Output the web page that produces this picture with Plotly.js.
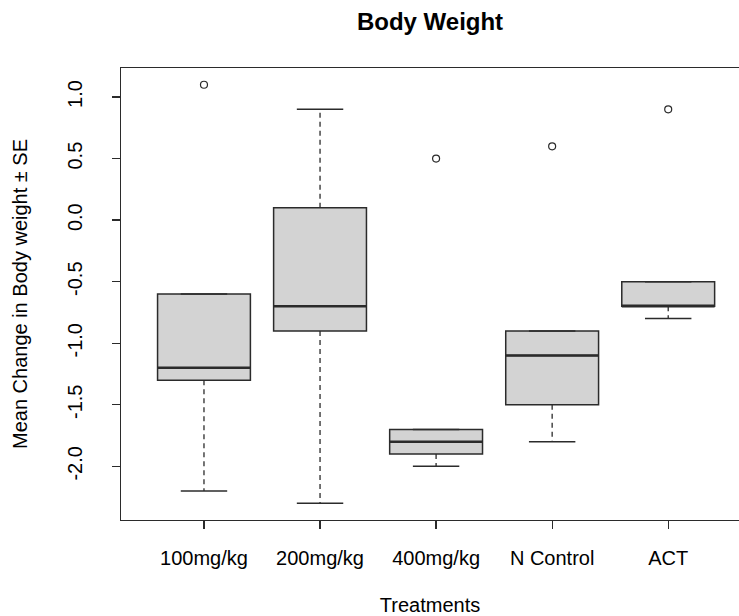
<!DOCTYPE html>
<html>
<head>
<meta charset="utf-8">
<script src="https://cdn.plot.ly/plotly-3.0.1.min.js"></script>
<style>html,body{margin:0;padding:0;background:#fff;}#chart{width:739px;height:616px;}</style>
</head>
<body>
<div id="chart"></div>
<script>
var categories = ["100mg/kg", "200mg/kg", "400mg/kg", "N Control", "ACT"];
var lowerWhisker = [-2.2, -2.3, -2.0, -1.8, -0.8];
var q1Values = [-1.3, -0.9, -1.9, -1.5, -0.7];
var medianValues = [-1.2, -0.7, -1.8, -1.1, -0.7];
var q3Values = [-0.6, 0.1, -1.7, -0.9, -0.5];
var upperWhisker = [-0.6, 0.9, -1.7, -0.9, -0.5];
var outlierCategory = ["100mg/kg", "400mg/kg", "N Control", "ACT"];
var outlierValues = [1.1, 0.5, 0.6, 0.9];
var yTicks = [-2.0, -1.5, -1.0, -0.5, 0.0, 0.5, 1.0];

var pos = categories.map(function(c, i){ return i + 1; });
var boxHalf = 0.4, capHalf = 0.2;
var lineCol = '#2b2b2b';

var traces = [];
traces.push({
  type: 'box', x: pos, q1: q1Values, median: medianValues, q3: q3Values,
  lowerfence: q1Values, upperfence: q3Values, width: 0.8,
  fillcolor: '#d3d3d3', line: {color: lineCol, width: 1.5},
  hoverinfo: 'skip', showlegend: false
});
var wx = [], wy = [];
var cx = [], cy = [];
pos.forEach(function(p, i){
  if (lowerWhisker[i] < q1Values[i]) { wx.push(p, p, null); wy.push(q1Values[i], lowerWhisker[i], null); }
  if (upperWhisker[i] > q3Values[i]) { wx.push(p, p, null); wy.push(q3Values[i], upperWhisker[i], null); }
  cx.push(p - capHalf, p + capHalf, null); cy.push(lowerWhisker[i], lowerWhisker[i], null);
  cx.push(p - capHalf, p + capHalf, null); cy.push(upperWhisker[i], upperWhisker[i], null);
});
traces.push({type:'scatter', mode:'lines', x: wx, y: wy, line:{color: lineCol, width: 1.3, dash: '5px,4px'}, hoverinfo:'skip', showlegend:false});
traces.push({type:'scatter', mode:'lines', x: cx, y: cy, line:{color: lineCol, width: 1.5}, hoverinfo:'skip', showlegend:false});
var mx = [], my = [];
pos.forEach(function(p, i){ mx.push(p - boxHalf, p + boxHalf, null); my.push(medianValues[i], medianValues[i], null); });
traces.push({type:'scatter', mode:'lines', x: mx, y: my, line:{color: lineCol, width: 2.5}, hoverinfo:'skip', showlegend:false});
traces.push({type:'scatter', mode:'markers',
  x: outlierCategory.map(function(c){ return categories.indexOf(c) + 1; }), y: outlierValues,
  marker:{symbol:'circle-open', size:7, color: lineCol, line:{width:1.2, color: lineCol}}, hoverinfo:'skip', showlegend:false});

var fontFam = 'Liberation Sans, Arial, sans-serif';
var layout = {
  width: 739, height: 616,
  margin: {l: 121, r: 0, t: 68, b: 96},
  paper_bgcolor: '#fff', plot_bgcolor: '#fff',
  showlegend: false,
  title: {text: '<b>Body Weight</b>', x: 0.5, xref: 'paper', y: 0.965, yanchor: 'middle',
          font: {family: fontFam, size: 24, color: '#000'}},
  xaxis: {
    range: [0.285, 5.61], tickvals: pos, ticktext: categories,
    showgrid: false, zeroline: false,
    showline: true, mirror: true, linecolor: lineCol, linewidth: 1.3,
    ticks: 'outside', ticklen: 8, tickcolor: lineCol, tickwidth: 1.3,
    ticklabelstandoff: 12,
    tickfont: {family: fontFam, size: 20, color: '#000'},
    title: {text: 'Treatments', standoff: 31, font: {family: fontFam, size: 20, color: '#000'}}
  },
  yaxis: {
    range: [-2.436, 1.236], tickvals: yTicks, ticktext: yTicks.map(function(v){ return v.toFixed(1); }),
    showgrid: false, zeroline: false,
    showline: true, linecolor: lineCol, linewidth: 1.3,
    ticks: 'outside', ticklen: 8, tickcolor: lineCol, tickwidth: 1.3,
    tickangle: -90, ticklabelstandoff: 22,
    tickfont: {family: fontFam, size: 20, color: '#000'},
    title: {text: 'Mean Change in Body weight ± SE', standoff: 30, font: {family: fontFam, size: 20, color: '#000'}}
  }
};
Plotly.newPlot('chart', traces, layout, {displayModeBar: false, staticPlot: true});
</script>
</body>
</html>
